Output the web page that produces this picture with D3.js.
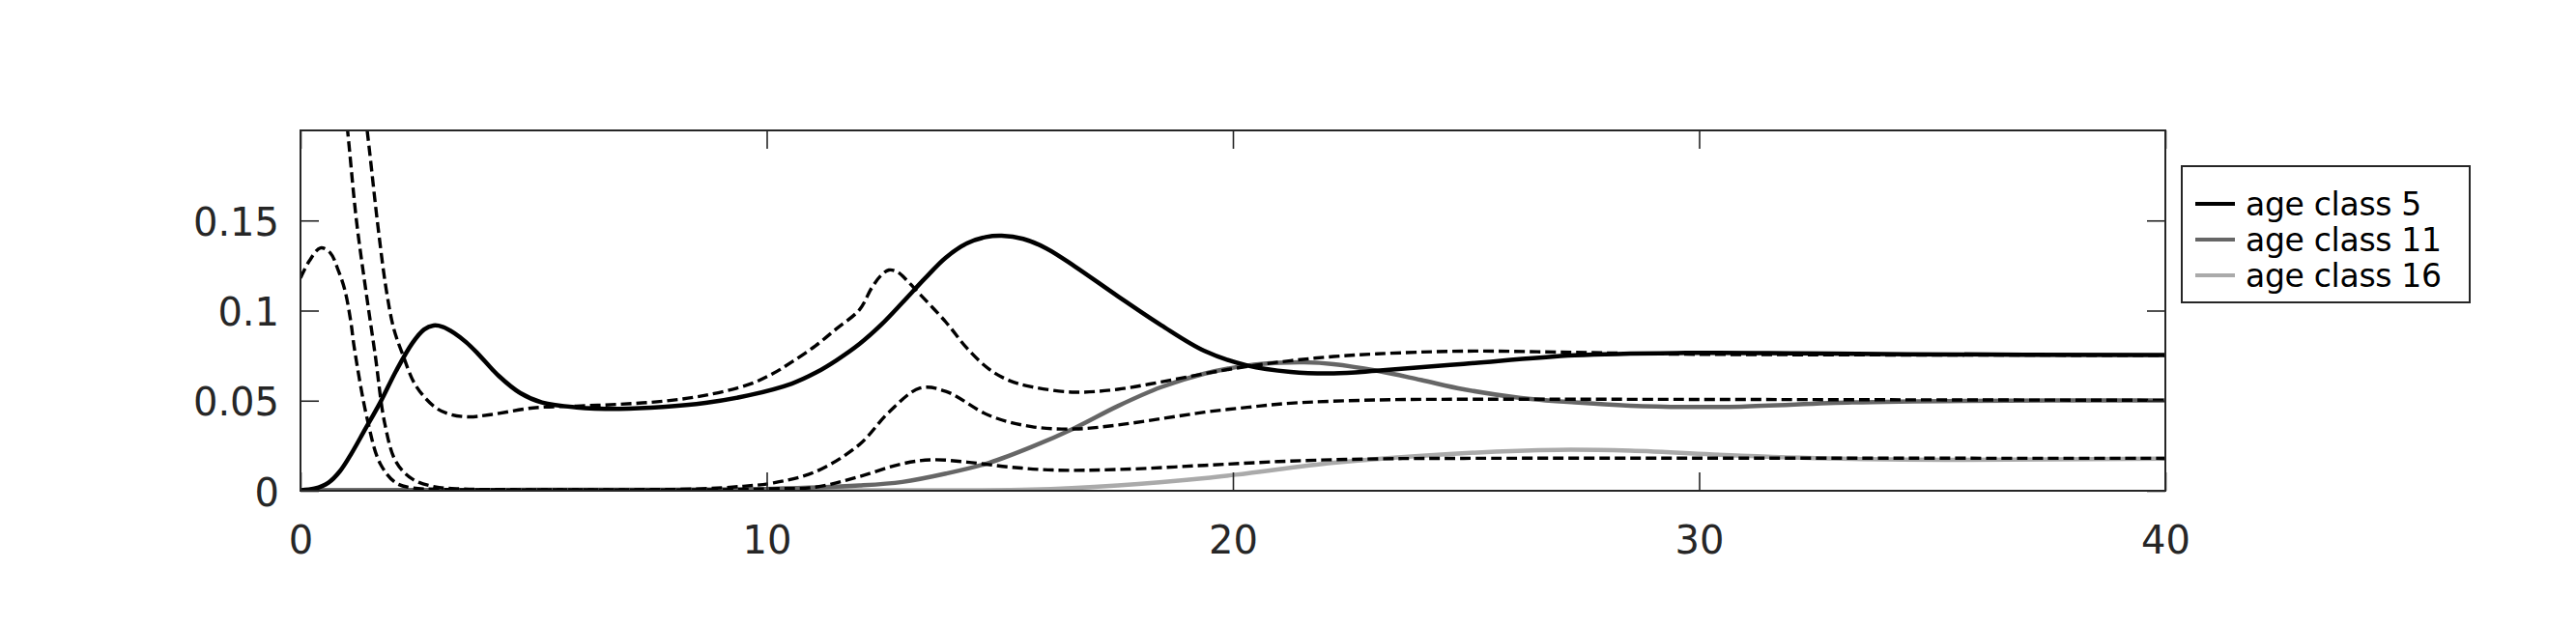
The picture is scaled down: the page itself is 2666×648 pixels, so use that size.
<!DOCTYPE html>
<html>
<head>
<meta charset="utf-8">
<script src="https://cdn.jsdelivr.net/npm/d3@7"></script>
<style>
  html, body { margin: 0; padding: 0; background: #fff; }
  svg { display: block; }
</style>
</head>
<body>
<svg id="chart" width="2666" height="648"></svg>
<script>
// ---- data ----
const xTicks = [0, 10, 20, 30, 40];
const yTicks = [0, 0.05, 0.1, 0.15];
const yTickLabels = ["0", "0.05", "0.1", "0.15"];
const legendLabels = ["age class 5", "age class 11", "age class 16"];
const seriesColors = ["#000000", "#666666", "#aaaaaa"];

const class5Solid = [[0,0.0003],[0.3,0.0012],[0.6,0.0045],[0.85,0.011],[1.1,0.021],[1.36,0.0329],[1.71,0.049],[2.05,0.0665],[2.40,0.082],[2.65,0.0895],[2.85,0.0917],[3.05,0.091],[3.30,0.0875],[3.55,0.0825],[3.79,0.0765],[4.25,0.0638],[4.71,0.0543],[5.18,0.049],[5.92,0.0463],[6.84,0.0455],[7.77,0.0465],[8.69,0.0488],[9.62,0.053],[10.54,0.0595],[11.05,0.0655],[11.5,0.0725],[11.99,0.0815],[12.45,0.092],[12.91,0.1044],[13.4,0.118],[13.84,0.1294],[14.3,0.1374],[14.7,0.1408],[15.04,0.1415],[15.5,0.1398],[16.0,0.1345],[16.61,0.1245],[17.53,0.108],[18.46,0.0919],[19.39,0.0776],[20.31,0.0695],[21.24,0.066],[22.16,0.0652],[23.09,0.0666],[24.95,0.0704],[27.33,0.0752],[29.71,0.0765],[32.09,0.0763],[34.47,0.0758],[40,0.0753]];

const class11Solid = [[0,0.0003],[5,0.0005],[10.13,0.0011],[11.99,0.0029],[12.91,0.0049],[13.84,0.0095],[14.77,0.0155],[15.68,0.0243],[16.61,0.0349],[17.53,0.047],[18.46,0.0575],[19.39,0.065],[20.31,0.0695],[21.0,0.071],[21.53,0.0713],[22.16,0.0703],[23.09,0.0666],[24.03,0.0615],[24.95,0.0563],[26.14,0.0516],[27.33,0.049],[28.52,0.0472],[29.71,0.0465],[30.9,0.0467],[33.28,0.049],[35.66,0.0499],[40,0.0502]];

const class16Solid = [[0,0.0003],[10,0.0003],[15.68,0.0007],[17.53,0.003],[19.39,0.007],[20.31,0.0097],[22.16,0.0155],[24.64,0.0204],[26.97,0.0227],[28.52,0.0222],[30.9,0.0195],[33.28,0.0177],[35.66,0.0172],[40,0.0178]];

const class5Dashed = [[0,0.55],[0.5,0.42],[1.0,0.29],[1.43,0.2],[1.66,0.147],[1.84,0.1115],[2.0,0.09],[2.19,0.0758],[2.47,0.0585],[2.88,0.0465],[3.2,0.0425],[3.6,0.041],[4.07,0.0422],[4.99,0.046],[5.92,0.047],[6.84,0.048],[7.77,0.0497],[8.69,0.053],[9.62,0.059],[10.13,0.065],[10.54,0.0715],[11.05,0.0805],[11.5,0.090],[11.99,0.1005],[12.25,0.1125],[12.45,0.1195],[12.62,0.1225],[12.8,0.1215],[13.0,0.117],[13.18,0.112],[13.84,0.0937],[14.3,0.079],[14.77,0.0675],[15.2,0.0612],[15.68,0.0577],[16.61,0.0547],[17.53,0.0563],[18.46,0.0604],[19.39,0.065],[20.31,0.069],[21.24,0.0722],[22.16,0.0745],[23.09,0.076],[24.95,0.0775],[27.33,0.0768],[29.71,0.0758],[40,0.0752]];

const class11Dashed = [[0,0.45],[0.5,0.33],[1.01,0.2],[1.2,0.15],[1.40,0.1115],[1.60,0.0758],[1.81,0.037],[2.05,0.016],[2.4,0.0065],[2.88,0.0022],[3.5,0.001],[5,0.0006],[7,0.0006],[8.5,0.001],[9.5,0.0025],[10.13,0.0043],[11.05,0.0106],[11.99,0.0257],[12.62,0.0436],[13.29,0.057],[13.84,0.0552],[14.77,0.0418],[15.68,0.0356],[16.61,0.0343],[17.53,0.0365],[18.46,0.04],[19.39,0.0436],[20.31,0.0463],[21.24,0.0486],[23.09,0.0504],[24.95,0.0508],[27.33,0.0508],[40,0.0502]];

const class16Dashed = [[0,0.118],[0.19,0.1276],[0.43,0.1348],[0.64,0.132],[0.81,0.1223],[0.95,0.1115],[1.08,0.0937],[1.15,0.08],[1.43,0.04],[1.71,0.015],[2.05,0.0043],[2.4,0.0016],[3,0.0008],[6,0.0005],[9,0.0006],[10.13,0.0011],[11.05,0.002],[11.99,0.0079],[12.91,0.015],[13.54,0.0172],[14.3,0.0159],[15.2,0.0132],[16.14,0.0115],[17.53,0.0118],[19.39,0.0141],[21.24,0.0165],[23.09,0.0177],[24.95,0.018],[40,0.018]];

// ---- layout ----
const svg = d3.select("#chart");
const L = 311, R = 2241, T = 135, B = 508;
const axisColor = "#262626";
const font = "'DejaVu Sans', sans-serif";

const x = d3.scaleLinear().domain([0, 40]).range([L, R]);
const y = d3.scaleLinear().domain([0, 0.2]).range([B, T]);

svg.append("defs").append("clipPath").attr("id", "plotclip")
  .append("rect").attr("x", L).attr("y", T).attr("width", R - L).attr("height", B - T);

const line = d3.line().x(d => x(d[0])).y(d => y(d[1])).curve(d3.curveCatmullRom.alpha(0.5));

const plot = svg.append("g").attr("clip-path", "url(#plotclip)");

const solids = [class5Solid, class11Solid, class16Solid];
const dashes = [class5Dashed, class11Dashed, class16Dashed];

// draw solid in reverse so black is on top of greys
[2, 1, 0].forEach(i => {
  plot.append("path").datum(solids[i])
    .attr("d", line).attr("fill", "none")
    .attr("stroke", seriesColors[i]).attr("stroke-width", 4.5)
    .attr("stroke-linejoin", "round");
});
dashes.forEach(s => {
  plot.append("path").datum(s)
    .attr("d", line).attr("fill", "none")
    .attr("stroke", "#000").attr("stroke-width", 3.4)
    .attr("stroke-dasharray", "11,5");
});

// ---- axes (ticks inside, on all sides) ----
const tickLen = 19;
const bottomAxis = d3.axisBottom(x).tickValues(xTicks).tickSize(-tickLen).tickPadding(30).tickFormat(d3.format("d"));
const topAxis = d3.axisTop(x).tickValues(xTicks).tickSize(-tickLen).tickFormat("");
const leftAxis = d3.axisLeft(y).tickValues(yTicks).tickSize(-tickLen).tickPadding(22).tickFormat((d, i) => yTickLabels[i]);
const rightAxis = d3.axisRight(y).tickValues(yTicks).tickSize(-tickLen).tickFormat("");

function styleAxis(g) {
  g.select(".domain").remove();
  g.selectAll(".tick line").attr("stroke", axisColor).attr("stroke-width", 1.6);
  g.selectAll(".tick text").attr("fill", axisColor).style("font-family", font).style("font-size", "40px");
}

const gb = svg.append("g").attr("transform", `translate(0,${B})`).call(bottomAxis).call(styleAxis);
gb.selectAll(".tick text").attr("dy", null).attr("y", 65);
svg.append("g").attr("transform", `translate(0,${T})`).call(topAxis).call(styleAxis);
const gl = svg.append("g").attr("transform", `translate(${L},0)`).call(leftAxis).call(styleAxis);
gl.selectAll(".tick text").attr("dy", null).attr("y", 15);
svg.append("g").attr("transform", `translate(${R},0)`).call(rightAxis).call(styleAxis);

// frame
svg.append("rect").attr("x", L).attr("y", T).attr("width", R - L).attr("height", B - T)
  .attr("fill", "none").attr("stroke", axisColor).attr("stroke-width", 2);

// ---- legend ----
const lg = svg.append("g");
lg.append("rect").attr("x", 2258).attr("y", 172).attr("width", 298).attr("height", 141)
  .attr("fill", "#fff").attr("stroke", axisColor).attr("stroke-width", 2);
const rowY = d3.scalePoint().domain(legendLabels).range([211, 285]);
legendLabels.forEach((lab, i) => {
  const yy = rowY(lab);
  lg.append("line").attr("x1", 2272).attr("x2", 2313).attr("y1", yy).attr("y2", yy)
    .attr("stroke", seriesColors[i]).attr("stroke-width", 4);
  lg.append("text").attr("x", 2324).attr("y", yy + 12).text(lab)
    .attr("fill", "#000").style("font-family", font).style("font-size", "33px")
    .style("letter-spacing", "-0.3px");
});
</script>
</body>
</html>
